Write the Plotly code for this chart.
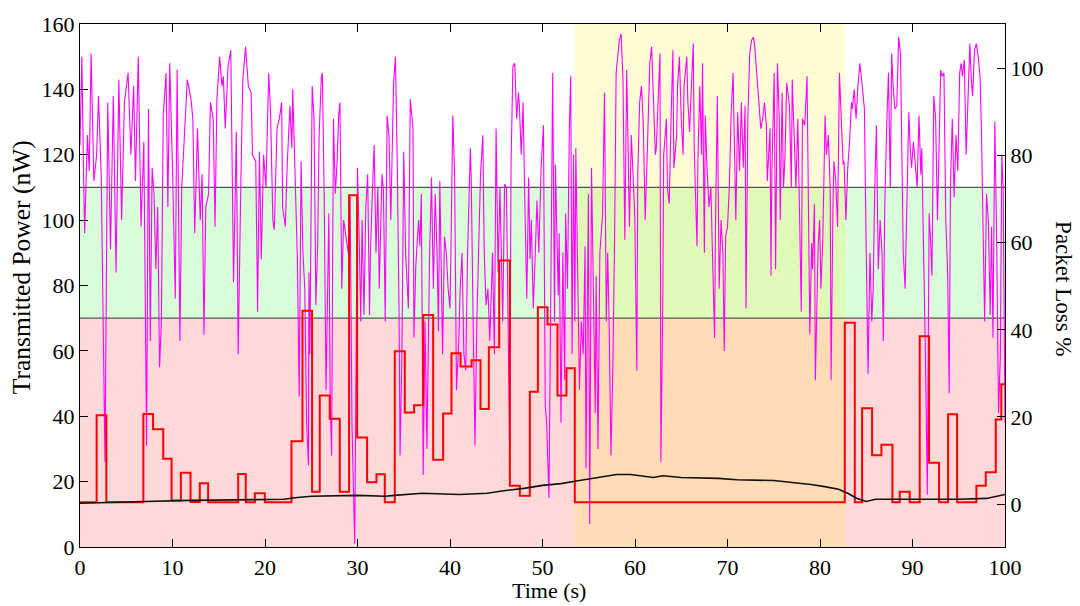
import plotly.graph_objects as go

# ---- transmitted power (nW), left axis ----
power_t = [0.0, 0.2, 0.4, 0.5, 0.8, 1.0, 1.2, 1.5, 1.8, 2.0, 2.3, 2.7, 2.9, 3.0, 3.3, 3.6, 3.9, 4.2, 4.5, 4.8,
           5.2, 5.5, 5.8, 6.0, 6.3, 6.6, 6.9, 7.2, 7.4, 7.6, 7.8, 8.0, 8.2, 8.4, 8.6, 8.8, 9.0, 9.3, 9.5, 9.7,
           10.0, 10.3, 10.5, 10.8, 11.0, 11.3, 11.6, 12.0, 12.2, 12.4, 12.7, 13.0, 13.2, 13.4, 13.6, 13.9, 14.1,
           14.4, 14.6, 14.8, 15.1, 15.35, 15.5, 15.7, 16.0, 16.3, 16.45, 16.6, 16.9, 17.1, 17.4, 17.6, 17.9,
           18.2, 18.5, 18.65, 19.0, 19.2, 19.4, 19.6, 19.85, 20.1, 20.4, 20.6, 20.85, 21.0, 21.3, 21.6, 21.8,
           21.9, 22.2, 22.4, 22.7, 22.9, 23.0, 23.3, 23.5, 23.7, 23.9, 24.1, 24.3, 24.5, 24.7, 24.75, 24.85,
           25.1, 25.3, 25.5, 25.7, 25.85, 26.1, 26.2, 26.4, 26.6, 26.7, 26.9, 27.05, 27.2, 27.4, 27.6, 27.8,
           27.96, 28.1, 28.3, 28.5, 28.7, 29.0, 29.2, 29.4, 29.7, 29.9, 30.0, 30.2, 30.35, 30.5, 30.7, 30.9,
           31.1, 31.3, 31.4, 31.6, 31.8, 32.0, 32.2, 32.35, 32.65, 32.8, 33.0, 33.2, 33.4, 33.6, 33.9, 34.1,
           34.3, 34.5, 34.6, 34.8, 35.0, 35.2, 35.5, 35.7, 36.0, 36.1, 36.3, 36.6, 36.75, 36.9, 37.1, 37.3,
           37.5, 37.8, 38.0, 38.2, 38.4, 38.6, 38.75, 38.9, 39.2, 39.4, 39.6, 39.8, 40.0, 40.1, 40.3, 40.5,
           40.7, 40.95, 41.1, 41.3, 41.5, 41.7, 41.9, 42.2, 42.3, 42.5, 42.7, 42.9, 43.1, 43.3, 43.55, 43.7,
           43.9, 44.1, 44.3, 44.6, 44.8, 44.98, 45.2, 45.4, 45.7, 45.9, 46.1, 46.3, 46.45, 46.6, 46.8, 47.0,
           47.2, 47.4, 47.5, 47.7, 47.9, 48.1, 48.3, 48.5, 48.65, 48.8, 49.0, 49.2, 49.4, 49.6, 49.85, 50.1,
           50.3, 50.45, 50.7, 50.9, 51.1, 51.3, 51.4, 51.7, 51.8, 52.0, 52.2, 52.4, 52.5, 52.7, 52.9, 53.05,
           53.2, 53.35, 53.5, 53.6, 53.9, 54.0, 54.2, 54.4, 54.6, 54.7, 54.96, 55.1, 55.3, 55.5, 55.7, 55.8,
           56.0, 56.2, 56.5, 56.7, 56.9, 57.05, 57.2, 57.4, 57.6, 57.8, 57.96, 58.1, 58.3, 58.5, 58.7, 58.9,
           59.1, 59.2, 59.4, 59.6, 59.8, 59.97, 60.2, 60.3, 60.5, 60.7, 60.9, 61.1, 61.3, 61.4, 61.6, 61.8,
           62.0, 62.2, 62.3, 62.5, 62.7, 62.8, 63.0, 63.1, 63.4, 63.5, 63.7, 63.9, 64.1, 64.2, 64.5, 64.6,
           64.8, 65.0, 65.2, 65.3, 65.6, 65.7, 65.9, 66.1, 66.3, 66.4, 66.7, 66.8, 67.0, 67.2, 67.3, 67.5,
           67.6, 67.8, 68.0, 68.2, 68.4, 68.6, 68.7, 68.9, 69.1, 69.3, 69.5, 69.65, 69.8, 70.0, 70.2, 70.4,
           70.6, 70.8, 70.9, 71.1, 71.3, 71.5, 71.7, 71.9, 72.0, 72.2, 72.4, 72.6, 72.8, 72.95, 73.2, 73.4,
           73.6, 73.8, 74.0, 74.2, 74.3, 74.6, 74.7, 74.8, 75.05, 75.2, 75.4, 75.6, 75.7, 75.9, 76.05, 76.2,
           76.4, 76.7, 76.9, 77.0, 77.2, 77.4, 77.6, 77.8, 77.98, 78.1, 78.35, 78.6, 78.8, 78.9, 79.1, 79.2,
           79.4, 79.5, 79.7, 79.8, 79.96, 80.1, 80.3, 80.55, 80.7, 80.9, 81.1, 81.2, 81.4, 81.5, 81.7, 81.9,
           82.1, 82.3, 82.5, 82.6, 82.8, 83.0, 83.2, 83.4, 83.5, 83.7, 83.9, 84.1, 84.3, 84.5, 84.6, 84.8,
           85.0, 85.2, 85.4, 85.6, 85.75, 85.9, 86.1, 86.3, 86.5, 86.7, 86.85, 87.0, 87.2, 87.4, 87.6, 87.75,
           87.9, 88.1, 88.3, 88.5, 88.7, 88.8, 89.0, 89.2, 89.4, 89.6, 89.75, 89.9, 90.1, 90.3, 90.5, 90.7,
           90.9, 91.0, 91.2, 91.4, 91.6, 91.8, 91.95, 92.1, 92.3, 92.5, 92.7, 92.9, 93.05, 93.2, 93.4, 93.6,
           93.8, 93.97, 94.1, 94.3, 94.5, 94.7, 94.9, 95.1, 95.25, 95.4, 95.6, 95.8, 96.0, 96.2, 96.35, 96.5,
           96.7, 96.9, 97.1, 97.3, 97.45, 97.6, 97.8, 98.0, 98.2, 98.4, 98.55, 98.7, 98.9, 99.1, 99.3, 99.5,
           99.65, 99.8, 100.0]
power_nw = [123, 150, 112, 96, 126, 115, 151, 112, 120, 138, 113, 26, 100, 136, 91, 138, 84, 143, 100, 136,
            145, 120, 141, 112, 150, 98, 124, 31, 134, 63, 116, 108, 85, 104, 55, 69, 132, 145, 104, 148,
            116, 76, 146, 63, 110, 129, 143, 137, 131, 96, 128, 100, 114, 65, 104, 108, 136,
            131, 98, 137, 150, 141, 144, 128, 147, 152, 123, 81, 127, 59, 113, 143, 153,
            141, 139, 120, 118, 72, 121, 88, 120, 110, 145, 133, 100, 97, 128, 132, 136,
            104, 98, 117, 135, 122, 140, 104, 88, 46, 118, 90, 79, 38, 25, 84, 59,
            141, 131, 74, 93, 126, 144, 145, 107, 48, 63, 102, 45, 28, 131, 108, 118,
            132, 136, 79, 100, 96, 90, 108, 38, 1, 74, 116, 92, 69, 100, 71, 104,
            114, 71, 90, 108, 123, 90, 110, 79, 114, 109, 69, 132, 126, 100, 142, 150,
            118, 69, 28, 59, 121, 90, 73, 137, 128, 64, 86, 100, 92, 108, 22, 69,
            30, 90, 113, 79, 108, 90, 66, 112, 59, 95, 90, 79, 73, 90, 132, 114,
            48, 63, 79, 90, 59, 54, 90, 122, 112, 69, 31, 69, 95, 114, 126, 90,
            74, 79, 63, 90, 59, 128, 84, 110, 69, 111, 110, 59, 29, 117, 147, 148,
            131, 139, 135, 120, 136, 104, 76, 113, 88, 100, 73, 88, 106, 90, 116, 129,
            43, 38, 15, 79, 145, 69, 117, 77, 96, 38, 90, 51, 102, 79, 128, 144,
            59, 120, 69, 122, 69, 48, 69, 59, 92, 24, 108, 7, 116, 79, 41, 83,
            30, 90, 102, 139, 69, 90, 69, 28, 54, 96, 145, 149, 155, 157, 143, 94,
            146, 131, 98, 126, 112, 102, 54, 114, 136, 141, 129, 100, 118, 131, 148, 153,
            139, 120, 122, 138, 151, 26, 74, 120, 131, 110, 105, 131, 152, 116, 126, 141,
            150, 131, 120, 141, 150, 137, 127, 141, 154, 122, 92, 118, 141, 120, 148, 90,
            132, 115, 104, 110, 90, 64, 98, 138, 79, 100, 90, 60, 95, 98, 110, 133,
            145, 115, 100, 133, 115, 136, 116, 135, 73, 131, 151, 155, 156, 153, 143, 138,
            128, 131, 136, 129, 112, 128, 83, 115, 145, 85, 148, 131, 100, 139, 110, 118,
            142, 135, 110, 143, 129, 110, 131, 104, 72, 131, 129, 144, 77, 65, 93, 85,
            105, 51, 79, 92, 100, 79, 94, 132, 120, 126, 110, 51, 104, 118, 112, 98,
            145, 133, 117, 118, 100, 116, 124, 136, 134, 140, 131, 141, 148, 143, 139, 134,
            90, 53, 90, 69, 79, 108, 129, 85, 100, 90, 63, 104, 128, 145, 110, 151,
            141, 134, 135, 156, 151, 131, 90, 79, 110, 133, 122, 116, 124, 118, 110, 132,
            114, 122, 94, 59, 16, 102, 94, 83, 138, 131, 100, 133, 146, 144, 145, 100,
            84, 47, 110, 131, 107, 126, 115, 145, 148, 144, 149, 120, 136, 154, 143, 138,
            152, 154, 150, 144, 128, 98, 69, 108, 100, 71, 98, 64, 130, 94, 41, 59,
            120, 110, 38]

# ---- packet loss (%), right axis, step series ----
loss_t = [0, 1.8, 2.85, 6.85, 7.9, 9.0, 9.9, 10.9, 11.95, 12.95, 13.85, 17.1, 17.92, 18.9, 19.98, 22.86,
          24.05, 25.09, 25.92, 27.0, 28.08, 29.09, 29.96, 31.04, 32.05, 32.95, 34.03, 35.11, 36.12, 37.1,
          38.18, 39.26, 40.16, 41.14, 42.33, 43.3, 44.2, 45.32, 46.47, 47.55, 48.63, 49.5, 50.54, 51.62,
          52.59, 53.49, 82.68, 83.76, 84.55, 85.63, 86.64, 87.83, 88.62, 89.7, 90.78, 91.79, 92.87, 93.85,
          94.82, 96.91, 97.92, 99.0, 99.6, 100]
loss_pct = [0.4, 20.4, 0.4, 20.7, 17.2, 10.4, 0.8, 7.2, 0.5, 4.8, 0.4, 6.9, 0.4, 2.5, 0.4, 14.4,
            44.4, 2.85, 24.9, 19.6, 2.85, 70.9, 15.3, 5.0, 6.85, 0.4, 35.1, 21.0, 22.7, 43.4,
            10.2, 20.8, 34.6, 31.6, 33.0, 21.8, 36.0, 55.9, 4.2, 1.9, 25.8, 45.2, 41.2, 24.9,
            31.2, 0.4, 41.6, 0.4, 22.0, 11.2, 13.6, 0.4, 2.85, 0.4, 38.5, 9.5, 0.4, 20.6,
            0.4, 4.2, 7.3, 19.4, 27.5, 27.5]

# ---- smoothed trend, right axis ----
trend_t = [0, 3, 7, 12, 22, 23.5, 25, 30, 33, 34, 37, 41, 44, 46, 48, 50, 52, 54, 56, 58, 59.5, 61, 62,
           63, 65, 69, 71, 75, 77, 79, 80.5, 82, 83, 84, 85, 86, 90, 95, 98, 99, 100]
trend_v = [0.2, 0.3, 0.6, 0.85, 1.1, 1.5, 1.8, 2.0, 1.8, 2.0, 2.5, 2.2, 2.5, 3.1, 3.6, 4.3, 4.7, 5.4, 6.1,
           6.8, 6.8, 6.3, 6.1, 6.5, 6.1, 5.9, 5.6, 5.4, 5.0, 4.5, 4.0, 3.4, 2.5, 1.3, 0.6, 1.1, 1.1, 1.1,
           1.3, 1.8, 2.2]

# ---- zones ----
low_zone = (0, 70)        # nW
mid_zone = (70, 110)      # nW
window = (53.5, 82.7)     # s

x_ticks = list(range(0, 101, 10))
left_ticks = list(range(0, 161, 20))
right_ticks = list(range(0, 101, 20))

FONT = "Liberation Serif"

fig = go.Figure()

fig.add_trace(go.Scatter(x=power_t, y=power_nw, mode="lines",
                         line=dict(color="#FF00FF", width=1.1), yaxis="y"))
fig.add_trace(go.Scatter(x=loss_t, y=loss_pct, mode="lines", line_shape="hv",
                         line=dict(color="#FF0000", width=2), yaxis="y2"))
fig.add_trace(go.Scatter(x=trend_t, y=trend_v, mode="lines",
                         line=dict(color="#111111", width=1.6), yaxis="y2"))

shapes = [
    dict(type="rect", xref="paper", yref="y", x0=0, x1=1, y0=low_zone[0], y1=low_zone[1],
         fillcolor="rgb(255,217,217)", line_width=0, layer="below"),
    dict(type="rect", xref="paper", yref="y", x0=0, x1=1, y0=mid_zone[0], y1=mid_zone[1],
         fillcolor="rgb(217,252,217)", line_width=0, layer="below"),
    dict(type="rect", xref="x", yref="paper", x0=window[0], x1=window[1], y0=0, y1=1,
         fillcolor="rgba(255,235,0,0.16)", line_width=0, layer="below"),
    dict(type="line", xref="paper", yref="y", x0=0, x1=1, y0=low_zone[1], y1=low_zone[1],
         line=dict(color="#555555", width=1.3), layer="below"),
    dict(type="line", xref="paper", yref="y", x0=0, x1=1, y0=mid_zone[1], y1=mid_zone[1],
         line=dict(color="#555555", width=1.3), layer="below"),
]

axis_common = dict(showgrid=False, zeroline=False, showline=True, linecolor="black", linewidth=1.2,
                   ticks="inside", ticklen=8, tickcolor="black", tickwidth=1,
                   tickfont=dict(family=FONT, size=22, color="black"))

fig.update_layout(
    width=1080, height=606,
    margin=dict(l=80, r=75, t=20, b=59),
    paper_bgcolor="white", plot_bgcolor="white",
    showlegend=False,
    font=dict(family=FONT, color="black"),
    shapes=shapes,
    xaxis=dict(range=[0, 100], tickvals=x_ticks, mirror="ticks", **axis_common),
    yaxis=dict(range=[0, 160], tickvals=left_ticks, **axis_common),
    yaxis2=dict(range=[-9.85, 110.2], tickvals=right_ticks, overlaying="y", side="right", **axis_common),
    annotations=[
        dict(text="Time (s)", xref="paper", yref="paper", x=0.507, y=-0.110,
             xanchor="center", yanchor="bottom",
             showarrow=False, font=dict(family=FONT, size=22)),
        dict(text="Transmitted Power (nW)", xref="paper", yref="paper", x=-0.0637, y=0.535,
             xanchor="center", yanchor="middle",
             textangle=-90, showarrow=False, font=dict(family=FONT, size=25.5)),
        dict(text="Packet Loss %", xref="paper", yref="paper", x=1.0638, y=0.495,
             xanchor="center", yanchor="middle",
             textangle=90, showarrow=False, font=dict(family=FONT, size=23)),
    ],
)

fig.write_html("out.html")
